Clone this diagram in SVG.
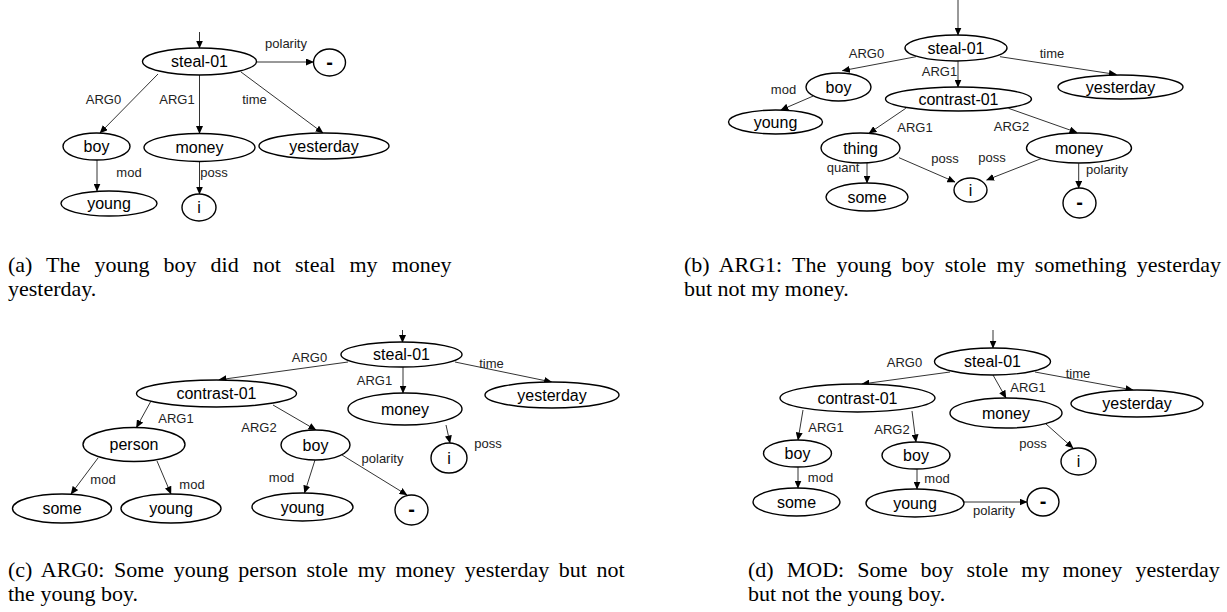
<svg xmlns="http://www.w3.org/2000/svg" width="1227" height="612" viewBox="0 0 1227 612">
<style>
.n ellipse{fill:#fff;stroke:#000;stroke-width:1.4}
.n text{font-family:"Liberation Sans",Arial,sans-serif;font-size:16px;fill:#000;text-anchor:middle}
.n text.neg{font-weight:bold;font-size:20px}
.e line{stroke:#333;stroke-width:1;marker-end:url(#ah)}
.e text{font-family:"Liberation Sans",Arial,sans-serif;font-size:13px;fill:#222;text-anchor:middle}
.cap{font-family:"Liberation Serif","Times New Roman",serif;font-size:22px;fill:#000}
</style>
<defs>
<marker id="ah" markerWidth="8" markerHeight="7" refX="7.5" refY="3.5" orient="auto" markerUnits="userSpaceOnUse">
<path d="M0,0 L8,3.5 L0,7 z" fill="#000"/>
</marker>
</defs>
<rect width="1227" height="612" fill="#fff"/>

<!-- connectors -->
<g id="connectors" class="e">
<!-- panel a -->
<line x1="199.5" y1="32" x2="199.5" y2="48"/>
<line x1="256.5" y1="62" x2="313.5" y2="62"/>
<text x="286" y="47.5">polarity</text>
<line x1="158" y1="74" x2="100" y2="133"/>
<text x="103.5" y="103.5">ARG0</text>
<line x1="199.5" y1="75" x2="199.5" y2="133.5"/>
<text x="177" y="103.5">ARG1</text>
<line x1="241" y1="72" x2="323" y2="133"/>
<text x="254.5" y="103.5">time</text>
<line x1="97" y1="160" x2="97" y2="191"/>
<text x="129" y="176.5">mod</text>
<line x1="199.5" y1="161.5" x2="199.5" y2="194"/>
<text x="214" y="176.5">poss</text>
<!-- panel b -->
<line x1="958" y1="0" x2="958" y2="35"/>
<line x1="916" y1="56.7" x2="842.4" y2="70.7"/>
<text x="866.5" y="57.5">ARG0</text>
<line x1="958" y1="60.7" x2="958" y2="87"/>
<text x="939.5" y="75.5">ARG1</text>
<line x1="1000" y1="56.7" x2="1116.4" y2="74.5"/>
<text x="1052" y="57.5">time</text>
<line x1="813.3" y1="96" x2="780.8" y2="110"/>
<text x="783.5" y="93.5">mod</text>
<line x1="905.8" y1="108.3" x2="869" y2="133.3"/>
<text x="915" y="131.5">ARG1</text>
<line x1="1008.5" y1="108.3" x2="1077" y2="132.5"/>
<text x="1011.5" y="130.5">ARG2</text>
<line x1="867" y1="162.7" x2="867" y2="183"/>
<text x="843" y="171.5">quant</text>
<line x1="899" y1="157.7" x2="955" y2="182"/>
<text x="945" y="162.5">poss</text>
<line x1="1041" y1="158.7" x2="986.6" y2="180"/>
<text x="992" y="161.5">poss</text>
<line x1="1078.7" y1="163.3" x2="1078.7" y2="188.3"/>
<text x="1107" y="173.5">polarity</text>
<!-- panel c -->
<line x1="402.5" y1="330" x2="402.5" y2="342.5"/>
<line x1="348" y1="362" x2="219" y2="379.8"/>
<text x="309.5" y="361.5">ARG0</text>
<line x1="403" y1="366.5" x2="403" y2="393"/>
<text x="374.5" y="384.5">ARG1</text>
<line x1="455" y1="362" x2="551.6" y2="382"/>
<text x="491.5" y="367.5">time</text>
<line x1="446" y1="425" x2="450" y2="443"/>
<text x="488" y="447.5">poss</text>
<line x1="151" y1="401" x2="136.4" y2="427.5"/>
<text x="176" y="422.5">ARG1</text>
<line x1="273" y1="405" x2="316" y2="430"/>
<text x="259" y="431.5">ARG2</text>
<line x1="342" y1="455" x2="407" y2="495"/>
<text x="382.5" y="462.5">polarity</text>
<line x1="98" y1="458" x2="71" y2="494"/>
<text x="103" y="483.5">mod</text>
<line x1="157" y1="461" x2="171" y2="494"/>
<text x="192" y="488.5">mod</text>
<line x1="315" y1="460" x2="304.5" y2="493"/>
<text x="281.5" y="481.5">mod</text>
<!-- panel d -->
<line x1="993" y1="330" x2="993" y2="348"/>
<line x1="950" y1="372" x2="862" y2="384"/>
<text x="904.5" y="366.5">ARG0</text>
<line x1="993" y1="375" x2="1006" y2="398"/>
<text x="1028" y="391.5">ARG1</text>
<line x1="1035" y1="372" x2="1133" y2="390"/>
<text x="1078" y="377.5">time</text>
<line x1="803" y1="410" x2="798" y2="440"/>
<text x="826" y="431.5">ARG1</text>
<line x1="912" y1="411" x2="916" y2="442"/>
<text x="892" y="433.5">ARG2</text>
<line x1="798" y1="467" x2="798" y2="488"/>
<text x="820.5" y="481.5">mod</text>
<line x1="917" y1="469" x2="917" y2="489"/>
<text x="937" y="482.5">mod</text>
<line x1="964" y1="502" x2="1027" y2="502"/>
<text x="994" y="514.5">polarity</text>
<line x1="1046" y1="424" x2="1073" y2="448"/>
<text x="1033" y="447.5">poss</text>
</g>

<!-- panel a nodes -->
<g id="a_steal" class="n"><ellipse cx="199.5" cy="61.5" rx="57" ry="13.5"/><text x="199.5" y="67">steal-01</text></g>
<g id="a_neg" class="n"><ellipse cx="329.5" cy="62.5" rx="16" ry="13.5"/><text class="neg" x="329.5" y="68.5">-</text></g>
<g id="a_boy" class="n"><ellipse cx="96.5" cy="146.5" rx="33.5" ry="13.5"/><text x="96.5" y="152">boy</text></g>
<g id="a_money" class="n"><ellipse cx="199.5" cy="147.5" rx="55.5" ry="14"/><text x="199.5" y="153">money</text></g>
<g id="a_yesterday" class="n"><ellipse cx="324" cy="146" rx="65" ry="13"/><text x="324" y="151.5">yesterday</text></g>
<g id="a_young" class="n"><ellipse cx="109" cy="203.5" rx="48" ry="12.5"/><text x="109" y="209">young</text></g>
<g id="a_i" class="n"><ellipse cx="199" cy="207.5" rx="17" ry="13.5"/><text x="199" y="213">i</text></g>

<!-- panel b nodes -->
<g id="b_steal" class="n"><ellipse cx="956" cy="48" rx="51" ry="13"/><text x="956" y="53.5">steal-01</text></g>
<g id="b_boy" class="n"><ellipse cx="838.5" cy="87" rx="32.5" ry="14"/><text x="838.5" y="92.5">boy</text></g>
<g id="b_young" class="n"><ellipse cx="775.5" cy="122" rx="47" ry="12"/><text x="775.5" y="127.5">young</text></g>
<g id="b_contrast" class="n"><ellipse cx="958.5" cy="99" rx="73" ry="12"/><text x="958.5" y="104.5">contrast-01</text></g>
<g id="b_yesterday" class="n"><ellipse cx="1120.5" cy="87" rx="62.5" ry="12"/><text x="1120.5" y="92.5">yesterday</text></g>
<g id="b_thing" class="n"><ellipse cx="860.5" cy="148" rx="39.5" ry="15"/><text x="860.5" y="153.5">thing</text></g>
<g id="b_money" class="n"><ellipse cx="1079" cy="148" rx="52.5" ry="15"/><text x="1079" y="153.5">money</text></g>
<g id="b_some" class="n"><ellipse cx="867" cy="197" rx="41" ry="14"/><text x="867" y="202.5">some</text></g>
<g id="b_i" class="n"><ellipse cx="970.5" cy="190" rx="16.5" ry="12"/><text x="970.5" y="195.5">i</text></g>
<g id="b_neg" class="n"><ellipse cx="1079.5" cy="203" rx="16.5" ry="15"/><text class="neg" x="1079.5" y="209">-</text></g>

<!-- panel c nodes -->
<g id="c_steal" class="n"><ellipse cx="401.5" cy="354.5" rx="60.5" ry="12.5"/><text x="401.5" y="360">steal-01</text></g>
<g id="c_contrast" class="n"><ellipse cx="216.5" cy="393.5" rx="80" ry="13.5"/><text x="216.5" y="399">contrast-01</text></g>
<g id="c_money" class="n"><ellipse cx="405" cy="409" rx="57" ry="16"/><text x="405" y="414.5">money</text></g>
<g id="c_yesterday" class="n"><ellipse cx="552" cy="395" rx="67" ry="13"/><text x="552" y="400.5">yesterday</text></g>
<g id="c_i" class="n"><ellipse cx="449" cy="458" rx="18" ry="15"/><text x="449" y="463.5">i</text></g>
<g id="c_person" class="n"><ellipse cx="134" cy="444.5" rx="51" ry="17"/><text x="134" y="450">person</text></g>
<g id="c_boy" class="n"><ellipse cx="315.5" cy="445" rx="34.5" ry="15"/><text x="315.5" y="450.5">boy</text></g>
<g id="c_neg" class="n"><ellipse cx="411.5" cy="510" rx="16.5" ry="15"/><text class="neg" x="411.5" y="516">-</text></g>
<g id="c_some" class="n"><ellipse cx="62" cy="508.5" rx="49.5" ry="14.5"/><text x="62" y="514">some</text></g>
<g id="c_young1" class="n"><ellipse cx="171" cy="508.5" rx="50" ry="14.5"/><text x="171" y="514">young</text></g>
<g id="c_young2" class="n"><ellipse cx="302.5" cy="507" rx="50.5" ry="14"/><text x="302.5" y="512.5">young</text></g>

<!-- panel d nodes -->
<g id="d_steal" class="n"><ellipse cx="992.5" cy="361.5" rx="58" ry="13.5"/><text x="992.5" y="367">steal-01</text></g>
<g id="d_contrast" class="n"><ellipse cx="857.5" cy="398" rx="77.5" ry="14"/><text x="857.5" y="403.5">contrast-01</text></g>
<g id="d_money" class="n"><ellipse cx="1006" cy="413" rx="56" ry="15"/><text x="1006" y="418.5">money</text></g>
<g id="d_yesterday" class="n"><ellipse cx="1137" cy="403.5" rx="66" ry="13.5"/><text x="1137" y="409">yesterday</text></g>
<g id="d_boy1" class="n"><ellipse cx="797.5" cy="453.5" rx="34" ry="13.5"/><text x="797.5" y="459">boy</text></g>
<g id="d_boy2" class="n"><ellipse cx="916" cy="455.5" rx="34" ry="13.5"/><text x="916" y="461">boy</text></g>
<g id="d_some" class="n"><ellipse cx="796.5" cy="502" rx="43.5" ry="14"/><text x="796.5" y="507.5">some</text></g>
<g id="d_young" class="n"><ellipse cx="915" cy="503" rx="49" ry="14"/><text x="915" y="508.5">young</text></g>
<g id="d_neg" class="n"><ellipse cx="1043" cy="502" rx="16" ry="14"/><text class="neg" x="1043" y="508">-</text></g>
<g id="d_i" class="n"><ellipse cx="1078.5" cy="461.5" rx="17.5" ry="13.5"/><text x="1078.5" y="467">i</text></g>

<!-- captions -->
<g id="captions">
<text class="cap" x="8" y="272" word-spacing="8.6">(a) The young boy did not steal my money</text>
<text class="cap" x="8" y="296">yesterday.</text>
<text class="cap" x="684" y="272" word-spacing="4.7">(b) ARG1: The young boy stole my something yesterday</text>
<text class="cap" x="684" y="296">but not my money.</text>
<text class="cap" x="8" y="577" word-spacing="4.1">(c) ARG0: Some young person stole my money yesterday but not</text>
<text class="cap" x="8" y="601">the young boy.</text>
<text class="cap" x="748" y="577" word-spacing="7.6">(d) MOD: Some boy stole my money yesterday</text>
<text class="cap" x="748" y="601">but not the young boy.</text>
</g>
</svg>
